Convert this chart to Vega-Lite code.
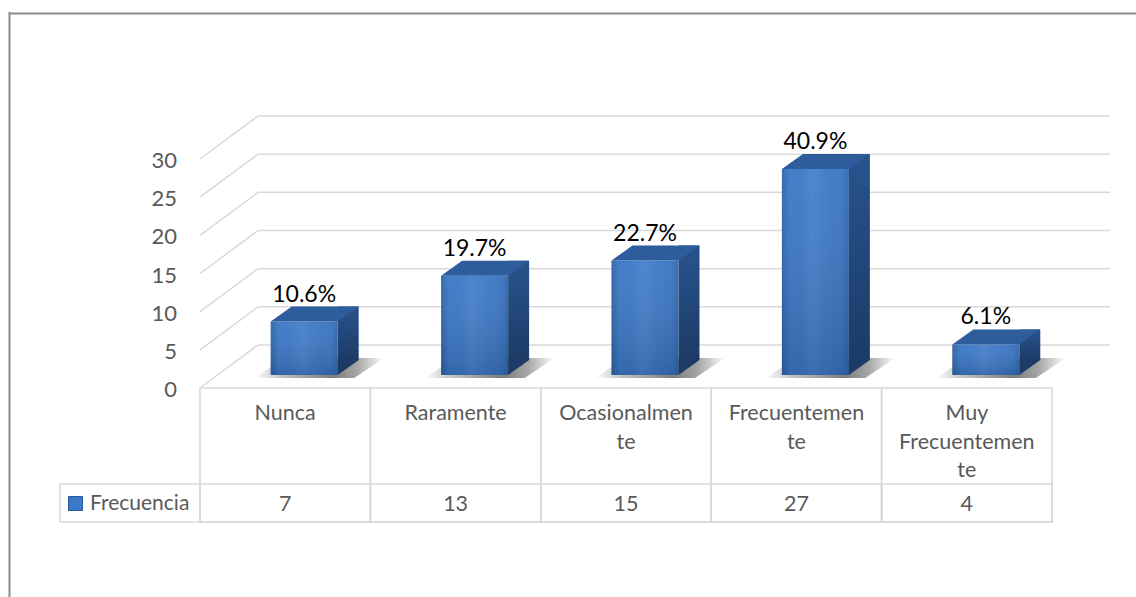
{
  "$schema": "https://vega.github.io/schema/vega-lite/v6.json",
  "width": 1127,
  "height": 585,
  "autosize": {"type": "none"},
  "padding": {"left": 9, "top": 12, "right": 0, "bottom": 0},
  "background": "white",
  "config": {
    "view": {"stroke": null},
    "font": "Lato"
  },
  "datasets": {
    "frecuencias": [
      {"categoria": "Nunca", "etiqueta": "Nunca", "frecuencia": 7, "porcentaje": 0.106, "serie": "Frecuencia"},
      {"categoria": "Raramente", "etiqueta": "Raramente", "frecuencia": 13, "porcentaje": 0.197, "serie": "Frecuencia"},
      {"categoria": "Ocasionalmente", "etiqueta": "Ocasionalmen\nte", "frecuencia": 15, "porcentaje": 0.227, "serie": "Frecuencia"},
      {"categoria": "Frecuentemente", "etiqueta": "Frecuentemen\nte", "frecuencia": 27, "porcentaje": 0.409, "serie": "Frecuencia"},
      {"categoria": "Muy Frecuentemente", "etiqueta": "Muy\nFrecuentemen\nte", "frecuencia": 4, "porcentaje": 0.061, "serie": "Frecuencia"}
    ],
    "marcas": [{"v": 0}, {"v": 5}, {"v": 10}, {"v": 15}, {"v": 20}, {"v": 25}, {"v": 30}]
  },
  "data": {"name": "frecuencias"},
  "layer": [
    {
      "description": "back wall gridlines",
      "data": {"name": "marcas"},
      "mark": {"type": "rule", "color": "#D9D9D9", "strokeWidth": 1.5, "xOffset": 58, "x2Offset": 58, "yOffset": -43},
      "encoding": {
        "x": {"datum": "Nunca", "type": "nominal", "bandPosition": 0, "axis": null},
        "x2": {"datum": "Muy Frecuentemente", "bandPosition": 1},
        "y": {"field": "v", "type": "quantitative", "axis": null}
      }
    },
    {
      "description": "side wall gridlines",
      "data": {"name": "marcas"},
      "mark": {"type": "point", "shape": "M0,0L58,-43", "size": 4, "filled": false, "stroke": "#D9D9D9", "strokeWidth": 1.5, "opacity": 1},
      "encoding": {
        "x": {"datum": "Nunca", "type": "nominal", "bandPosition": 0, "axis": null},
        "y": {"field": "v", "type": "quantitative", "axis": null}
      }
    },
    {
      "description": "value axis labels",
      "data": {"name": "marcas"},
      "mark": {"type": "text", "fontSize": 22, "color": "#595959", "align": "right", "baseline": "middle", "xOffset": -23, "dy": 2},
      "encoding": {
        "x": {"datum": "Nunca", "type": "nominal", "bandPosition": 0, "axis": null},
        "y": {"field": "v", "type": "quantitative", "axis": null},
        "text": {"field": "v", "type": "quantitative"}
      }
    },
    {
      "description": "floor shadow under each column",
      "mark": {
        "type": "point", "shape": "M-50,3L50,3L80,-17L-20,-17Z", "size": 4, "filled": true, "opacity": 1, "strokeWidth": 0,
        "xOffset": 19, "yOffset": -13,
        "fill": {"gradient": "linear", "x1": 0, "y1": 0, "x2": 1, "y2": 0, "stops": [
          {"offset": 0, "color": "#ffffff"}, {"offset": 0.2, "color": "#c4c4c4"}, {"offset": 0.6, "color": "#7c7c7c"}, {"offset": 0.8, "color": "#a8a8a8"}, {"offset": 1, "color": "#ffffff"}
        ]}
      },
      "encoding": {
        "x": {"field": "categoria", "type": "nominal", "axis": null},
        "y": {"datum": 0, "type": "quantitative", "axis": null}
      }
    },
    {
      "description": "column side face",
      "mark": {
        "type": "bar", "width": 21, "xOffset": 63, "yOffset": -28, "y2Offset": -28,
        "fill": {"gradient": "linear", "x1": 0, "y1": 0, "x2": 0, "y2": 1, "stops": [{"offset": 0, "color": "#29538E"}, {"offset": 1, "color": "#1C3B66"}]}
      },
      "encoding": {
        "x": {"field": "categoria", "type": "nominal", "axis": null},
        "y": {"field": "frecuencia", "type": "quantitative", "axis": null},
        "y2": {"datum": 0}
      }
    },
    {
      "description": "lower corner of the side face",
      "mark": {"type": "point", "shape": "M33.5,0L33.5,-15L54.5,-15Z", "size": 4, "filled": true, "opacity": 1, "strokeWidth": 0, "fill": "#1C3B66", "xOffset": 19, "yOffset": -13},
      "encoding": {
        "x": {"field": "categoria", "type": "nominal", "axis": null},
        "y": {"datum": 0, "type": "quantitative", "axis": null}
      }
    },
    {
      "description": "column front face",
      "mark": {"type": "bar", "width": 67, "xOffset": 19, "yOffset": -13, "y2Offset": -13},
      "encoding": {
        "x": {
          "field": "categoria", "type": "nominal", "axis": null,
          "scale": {"type": "band", "domain": ["Nunca", "Raramente", "Ocasionalmente", "Frecuentemente", "Muy Frecuentemente"], "range": [191, 1043], "paddingInner": 0, "paddingOuter": 0}
        },
        "y": {"field": "frecuencia", "type": "quantitative", "axis": null, "scale": {"domain": [0, 30], "range": [376, 147], "nice": false}},
        "y2": {"datum": 0},
        "color": {
          "field": "serie", "type": "nominal",
          "scale": {"domain": ["Frecuencia"], "range": ["#3A78C8"]},
          "legend": {"orient": "none", "legendX": 56, "legendY": 481, "title": null, "symbolType": "square", "symbolSize": 196, "symbolStrokeColor": "#2A5A9A", "symbolStrokeWidth": 1, "labelFontSize": 21, "labelColor": "#595959", "labelFont": "Lato", "labelOffset": 4, "padding": 0}
        }
      }
    },
    {
      "description": "front face shading",
      "mark": {
        "type": "bar", "width": 67, "xOffset": 19, "yOffset": -13, "y2Offset": -13,
        "fill": {"gradient": "linear", "x1": 0, "y1": 0, "x2": 1, "y2": 0, "stops": [
          {"offset": 0, "color": "rgba(0,0,0,0.18)"}, {"offset": 0.12, "color": "rgba(0,0,0,0)"}, {"offset": 0.45, "color": "rgba(255,255,255,0.06)"}, {"offset": 0.9, "color": "rgba(0,0,0,0.04)"}, {"offset": 1, "color": "rgba(0,0,0,0.16)"}
        ]}
      },
      "encoding": {
        "x": {"field": "categoria", "type": "nominal", "axis": null},
        "y": {"field": "frecuencia", "type": "quantitative", "axis": null},
        "y2": {"datum": 0}
      }
    },
    {
      "description": "front face vertical shading",
      "mark": {
        "type": "bar", "width": 67, "xOffset": 19, "yOffset": -13, "y2Offset": -13,
        "fill": {"gradient": "linear", "x1": 0, "y1": 0, "x2": 0, "y2": 1, "stops": [{"offset": 0, "color": "rgba(255,255,255,0.05)"}, {"offset": 1, "color": "rgba(0,0,0,0.14)"}]}
      },
      "encoding": {
        "x": {"field": "categoria", "type": "nominal", "axis": null},
        "y": {"field": "frecuencia", "type": "quantitative", "axis": null},
        "y2": {"datum": 0}
      }
    },
    {
      "description": "column top face",
      "mark": {"type": "point", "shape": "M-33.5,0L33.5,0L54.5,-15L-12.5,-15Z", "size": 4, "filled": true, "opacity": 1, "strokeWidth": 0, "fill": "#2D5D9C", "xOffset": 19, "yOffset": -13},
      "encoding": {
        "x": {"field": "categoria", "type": "nominal", "axis": null},
        "y": {"field": "frecuencia", "type": "quantitative", "axis": null}
      }
    },
    {
      "description": "percentage labels",
      "mark": {"type": "text", "fontSize": 23, "color": "#000000", "baseline": "alphabetic", "align": "center", "xOffset": 19, "yOffset": -33},
      "encoding": {
        "x": {"field": "categoria", "type": "nominal", "axis": null},
        "y": {"field": "frecuencia", "type": "quantitative", "axis": null},
        "text": {"field": "porcentaje", "type": "quantitative", "format": ".1%"}
      }
    },
    {
      "description": "data table: category cells",
      "mark": {"type": "bar", "filled": false, "stroke": "#D9D9D9", "strokeWidth": 1.5, "yOffset": 0, "y2Offset": 134},
      "encoding": {
        "x": {"field": "categoria", "type": "nominal", "axis": null},
        "y": {"datum": 0, "type": "quantitative", "axis": null},
        "y2": {"datum": 0}
      }
    },
    {
      "description": "data table: value cells",
      "mark": {"type": "bar", "filled": false, "stroke": "#D9D9D9", "strokeWidth": 1.5, "yOffset": 96, "y2Offset": 134},
      "encoding": {
        "x": {"field": "categoria", "type": "nominal", "axis": null},
        "y": {"datum": 0, "type": "quantitative", "axis": null},
        "y2": {"datum": 0}
      }
    },
    {
      "description": "data table: series key cell",
      "data": {"values": [{}]},
      "mark": {"type": "bar", "filled": false, "stroke": "#D9D9D9", "strokeWidth": 1.5, "width": 140, "xOffset": -155.2, "yOffset": 96, "y2Offset": 134},
      "encoding": {
        "x": {"datum": "Nunca", "type": "nominal", "axis": null},
        "y": {"datum": 0, "type": "quantitative", "axis": null},
        "y2": {"datum": 0}
      }
    },
    {
      "description": "category names",
      "mark": {"type": "text", "fontSize": 21.5, "color": "#595959", "baseline": "alphabetic", "align": "center", "lineBreak": "\n", "lineHeight": 28.5, "yOffset": 32},
      "encoding": {
        "x": {"field": "categoria", "type": "nominal", "axis": null},
        "y": {"datum": 0, "type": "quantitative", "axis": null},
        "text": {"field": "etiqueta", "type": "nominal"}
      }
    },
    {
      "description": "frequency values",
      "mark": {"type": "text", "fontSize": 21.5, "color": "#595959", "baseline": "alphabetic", "align": "center", "yOffset": 123},
      "encoding": {
        "x": {"field": "categoria", "type": "nominal", "axis": null},
        "y": {"datum": 0, "type": "quantitative", "axis": null},
        "text": {"field": "frecuencia", "type": "quantitative"}
      }
    },
    {
      "description": "frame, top edge",
      "data": {"values": [{}]},
      "mark": {"type": "rule", "color": "#8C8C8C", "strokeWidth": 2},
      "encoding": {"y": {"value": 1.5}}
    },
    {
      "description": "frame, left edge",
      "data": {"values": [{}]},
      "mark": {"type": "rule", "color": "#8C8C8C", "strokeWidth": 2},
      "encoding": {"x": {"value": 0.5}}
    }
  ]
}
